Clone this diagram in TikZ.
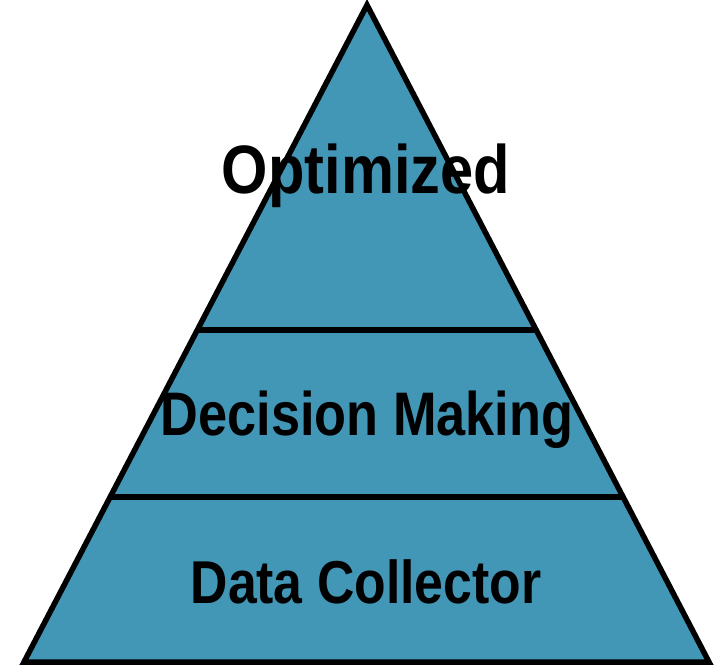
\documentclass[tikz,border=0pt]{standalone}
\usepackage{fontspec}
\setmainfont{Liberation Sans}
\usetikzlibrary{calc}
\definecolor{pyr}{RGB}{66,151,182}
\tikzset{
  tier/.style={line width=5.5pt, draw=black},
  lbl/.style={anchor=base, inner sep=0pt, font=\bfseries},
}
\begin{document}
\begin{tikzpicture}[x=1pt,y=-1pt]
\useasboundingbox (0,0) rectangle (714,667);
\coordinate (A) at (367,5);
\coordinate (BL) at (24,662);
\coordinate (BR) at (709,662);
\fill[pyr] (A) -- (BL) -- (BR) -- cycle;
\coordinate (L1) at ($(A)!0.4947!(BL)$);
\coordinate (R1) at ($(A)!0.4947!(BR)$);
\coordinate (L2) at ($(A)!0.7489!(BL)$);
\coordinate (R2) at ($(A)!0.7489!(BR)$);
\draw[tier] (L1) -- (R1);
\draw[tier] (L2) -- (R2);
\draw[tier, line join=miter] (A) -- (BL) -- (BR) -- cycle;
\node[lbl] (t1) at (366,193) {\fontsize{68.5}{70}\selectfont\scalebox{0.87}[1]{Optimized}};
\node[lbl] (t2) at (367,435) {\fontsize{61.5}{64}\selectfont\scalebox{0.85}[1]{Decision Making}};
\node[lbl] (t3) at (366,603) {\fontsize{60.5}{63}\selectfont\scalebox{0.855}[1]{Data Collector}};
\end{tikzpicture}
\end{document}
